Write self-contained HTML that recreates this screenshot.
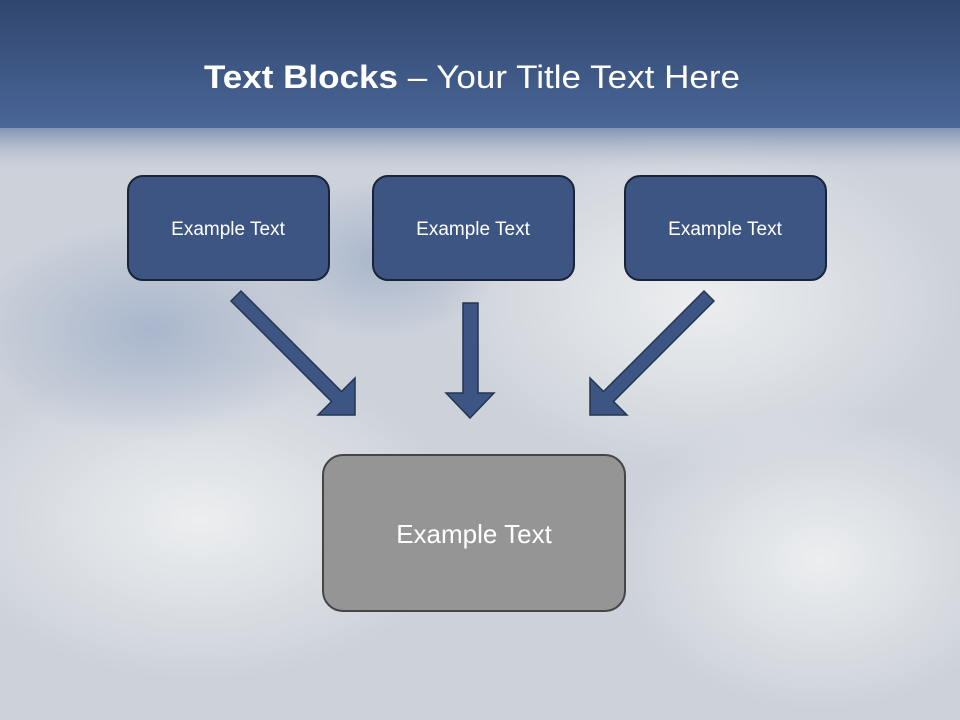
<!DOCTYPE html>
<html><head><meta charset="utf-8"><style>
html,body{margin:0;padding:0;width:960px;height:720px;overflow:hidden}
body{background:#cdd2da}
</style></head><body>
<svg width="960" height="720" xmlns="http://www.w3.org/2000/svg" style="position:absolute;left:0;top:0">
<defs>
<linearGradient id="hdr" x1="0" y1="0" x2="0" y2="1">
<stop offset="0" stop-color="#30466d"/><stop offset="1" stop-color="#4a6698"/>
</linearGradient>
<linearGradient id="fade" x1="0" y1="0" x2="0" y2="1">
<stop offset="0" stop-color="#7d8fb2"/><stop offset="1" stop-color="#cfd4dc" stop-opacity="0"/>
</linearGradient>
<radialGradient id="c1" cx="0.5" cy="0.5" r="0.5"><stop offset="0" stop-color="#eceeef"/><stop offset="1" stop-color="#eceeef" stop-opacity="0"/></radialGradient>
<radialGradient id="c2" cx="0.5" cy="0.5" r="0.5"><stop offset="0" stop-color="#a9b6cc"/><stop offset="1" stop-color="#a9b6cc" stop-opacity="0"/></radialGradient>
</defs>
<rect width="960" height="720" fill="#cdd2da"/>
<ellipse cx="700" cy="300" rx="260" ry="170" fill="url(#c1)"/>
<ellipse cx="200" cy="520" rx="260" ry="160" fill="url(#c1)"/>
<ellipse cx="820" cy="560" rx="200" ry="150" fill="url(#c1)"/>
<ellipse cx="150" cy="330" rx="180" ry="110" fill="url(#c2)"/>
<ellipse cx="380" cy="260" rx="120" ry="80" fill="url(#c2)"/>
<rect x="0" y="126" width="960" height="50" fill="url(#fade)"/>
<rect x="0" y="0" width="960" height="128" fill="url(#hdr)"/>
<text x="204" y="88" fill="#fff" font-family="Liberation Sans, sans-serif" font-size="32" textLength="536" lengthAdjust="spacingAndGlyphs"><tspan font-weight="bold">Text Blocks</tspan> – Your Title Text Here</text>
<g fill="#3d5583" stroke="#1a2438" stroke-width="2">
<rect x="128" y="176" width="201" height="104" rx="15"/>
<rect x="373" y="176" width="201" height="104" rx="15"/>
<rect x="625" y="176" width="201" height="104" rx="15"/>
</g>
<rect x="323" y="455" width="302" height="156" rx="20" fill="#959595" stroke="#454545" stroke-width="2"/>
<g fill="#fff" font-family="Liberation Sans, sans-serif" font-size="19" text-anchor="middle">
<text x="228" y="235">Example Text</text>
<text x="473" y="235">Example Text</text>
<text x="725" y="235">Example Text</text>
<text x="474" y="543" font-size="26">Example Text</text>
</g>
<g fill="#3d5583" stroke="#243553" stroke-width="1.5">
<polygon points="463,303 478,303 478,393 494,393 470,418 446,393 463,393"/>
<polygon points="231,301 241,291 341.5,391.5 355,378 355,415 318,415 331.5,401.5"/>
<polygon points="714,301 704,291 603.5,391.5 590,378 590,415 627,415 613.5,401.5"/>
</g>
</svg>
</body></html>
